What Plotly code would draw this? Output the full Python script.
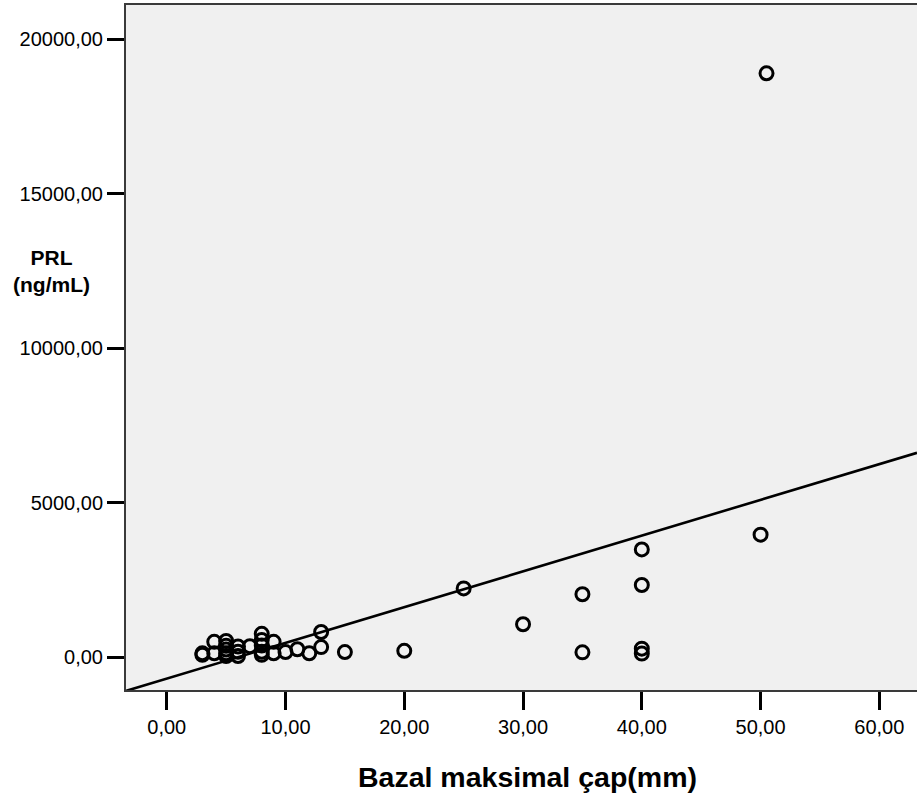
import numpy as np
import plotly.graph_objects as go

# Data (Bazal maksimal çap (mm) vs PRL (ng/mL))
diameter_mm = [3, 3, 4, 4, 5, 5, 5, 5, 5, 6, 6, 6, 7, 8, 8, 8, 8, 8, 9, 9,
               10, 11, 12, 13, 13, 15, 20, 25, 30, 35, 35, 40, 40, 40, 40, 50, 50.5]
prl_ngml = [130, 80, 500, 130, 530, 370, 250, 130, 40, 350, 180, 40, 360, 760, 560, 380, 180, 80, 500, 130,
            170, 260, 130, 820, 330, 170, 210, 2230, 1070, 2040, 160, 3490, 2340, 280, 120, 3970, 18900]

# Fit line (linear) as shown in the reference
fit_slope = 115.7
fit_intercept = -690.0

x_ticks = [0, 10, 20, 30, 40, 50, 60]
y_ticks = [0, 5000, 10000, 15000, 20000]
x_range = [-3.43, 63.17]
y_range = [-1058, 21110]

FONT = "Liberation Sans, Arial, Helvetica, sans-serif"

x_line = np.array(x_range)
y_line = fit_slope * x_line + fit_intercept

fig = go.Figure()
fig.add_trace(go.Scatter(
    x=x_line, y=y_line, mode="lines",
    line=dict(color="black", width=2.6), showlegend=False, hoverinfo="skip"))
fig.add_trace(go.Scatter(
    x=diameter_mm, y=prl_ngml, mode="markers",
    marker=dict(symbol="circle-open", size=13, color="black", line=dict(width=3)),
    showlegend=False))

fig.update_layout(
    width=917, height=799,
    margin=dict(l=126, r=0, t=5, b=109),
    paper_bgcolor="white", plot_bgcolor="#f0f0f0",
    separators=",.",
    font=dict(family=FONT, size=20, color="black"),
    xaxis=dict(range=x_range, tickvals=x_ticks, tickformat=".2f",
               showgrid=False, zeroline=False,
               showline=True, linecolor="#3a3a3a", linewidth=2, mirror=True,
               ticks="outside", ticklen=18, tickwidth=2.5, tickcolor="black",
               tickfont=dict(family=FONT, size=20)),
    yaxis=dict(range=y_range, tickvals=y_ticks, tickformat=".2f",
               showgrid=False, zeroline=False,
               showline=True, linecolor="#3a3a3a", linewidth=2,
               ticks="outside", ticklen=17, tickwidth=2.5, tickcolor="black",
               tickfont=dict(family=FONT, size=20)),
    annotations=[
        dict(text="<b>PRL<br>(ng/mL)</b>", xref="paper", yref="paper",
             x=-0.0948, y=0.6117, xanchor="center", yanchor="middle",
             showarrow=False, font=dict(family=FONT, size=21, color="black")),
        dict(text="<b>Bazal maksimal çap(mm)</b>", xref="paper", yref="paper",
             x=0.507, y=-0.127, xanchor="center", yanchor="middle",
             showarrow=False, font=dict(family=FONT, size=28.5, color="black")),
    ],
)

fig.write_html("out.html")
